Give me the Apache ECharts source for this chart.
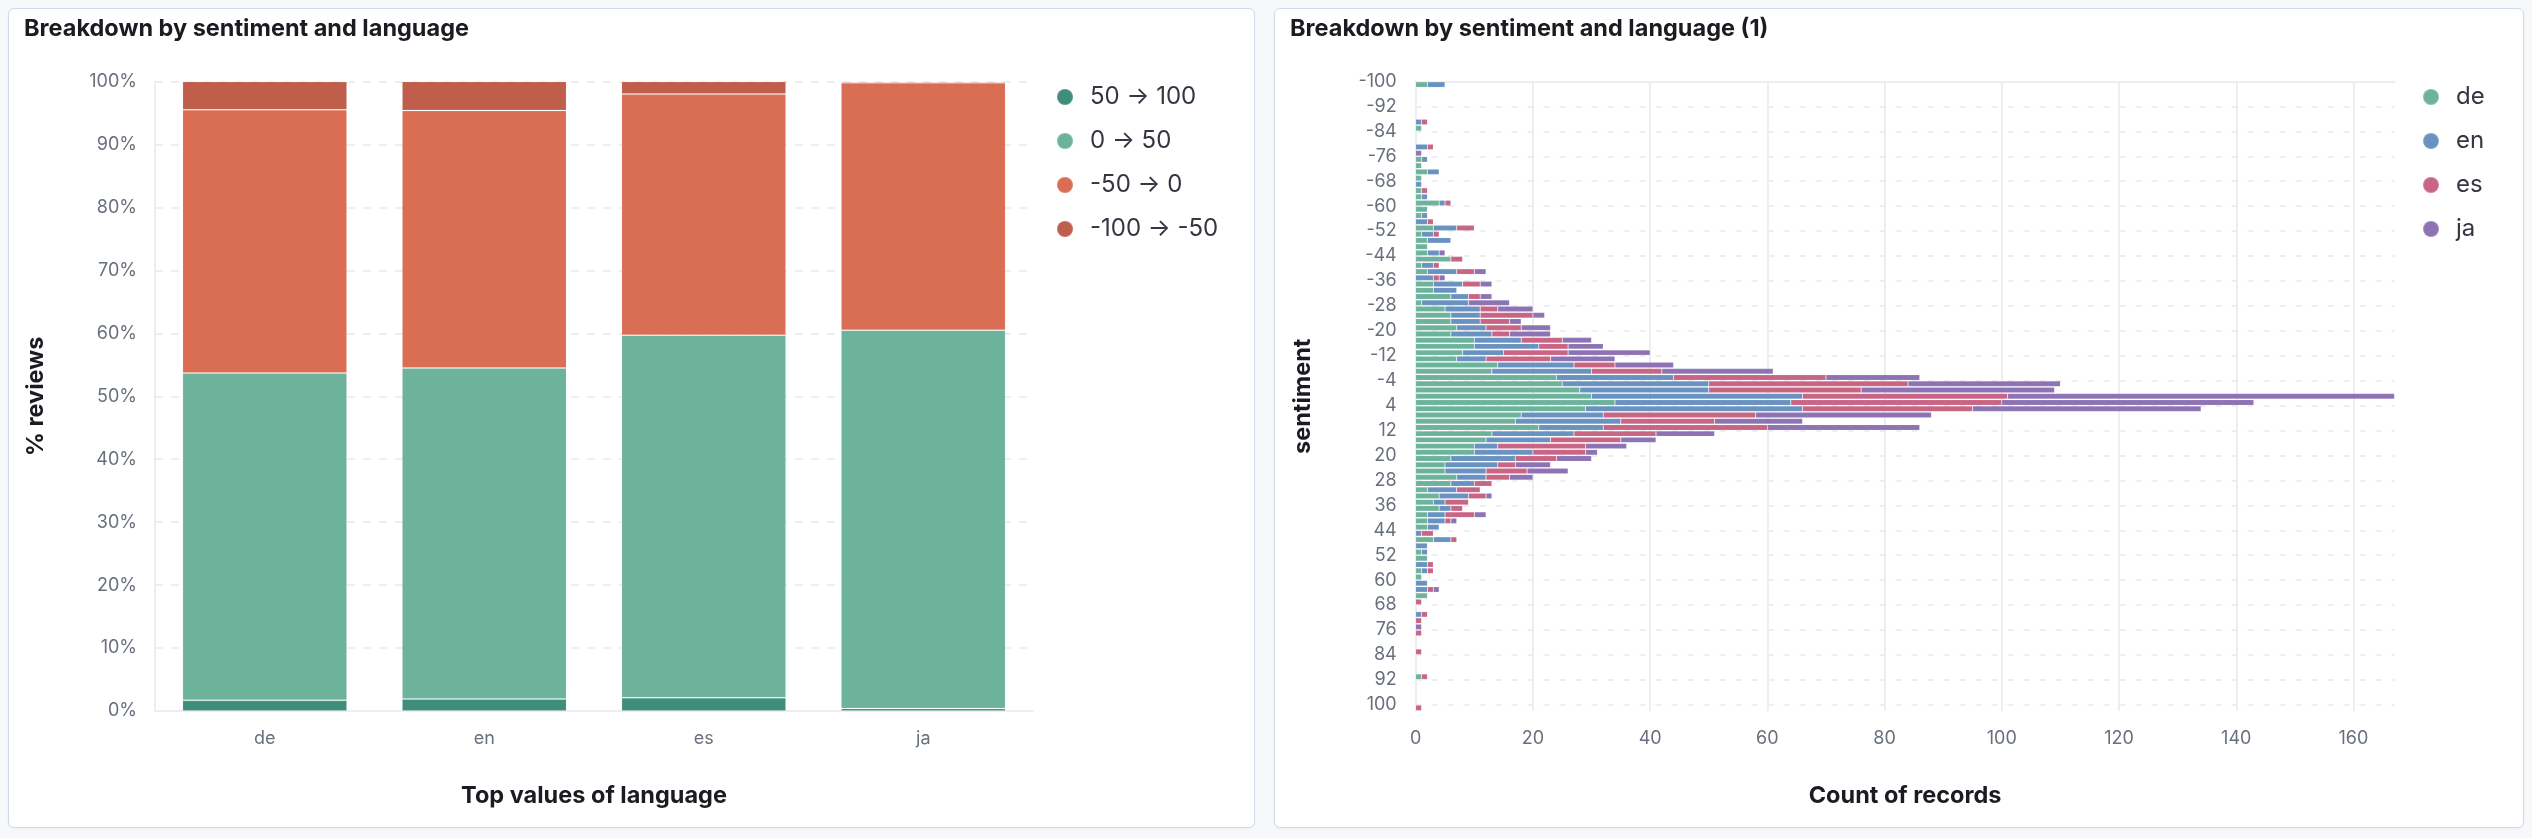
<!DOCTYPE html>
<html>
<head>
<meta charset="utf-8">
<script src="https://cdn.jsdelivr.net/npm/echarts@6.0.0/dist/echarts.min.js"></script>
<style>
html,body{margin:0;padding:0;background:#f6f8fb;width:2532px;height:838px;overflow:hidden;}
.card{position:absolute;background:#fff;border:1px solid #d3dae6;border-radius:6px;box-sizing:border-box;box-shadow:0 1px 3px rgba(0,0,0,0.04);}
#c1{left:8px;top:8px;width:1247px;height:820px;}
#c2{left:1274px;top:8px;width:1250px;height:820px;}
</style>
</head>
<body>
<div id="c1" class="card"></div>
<div id="c2" class="card"></div>
<script>
// ---------- left chart data ----------
const languages = ['de', 'en', 'es', 'ja'];
const rangeNames = ['50 \u2192 100', '0 \u2192 50', '-50 \u2192 0', '-100 \u2192 -50'];
const pct50to100 = [1.7, 1.9, 2.1, 0.4];
const pct0to50 = [52.0, 52.6, 57.6, 60.1];
const pctM50to0 = [41.8, 40.9, 38.3, 39.3];
const pctM100toM50 = [4.5, 4.6, 2.0, 0.2];

// ---------- right chart data ----------
const sentimentBins = [
  '-100','-98','-96','-94','-92','-90','-88','-86','-84','-82',
  '-80','-78','-76','-74','-72','-70','-68','-66','-64','-62',
  '-60','-58','-56','-54','-52','-50','-48','-46','-44','-42',
  '-40','-38','-36','-34','-32','-30','-28','-26','-24','-22',
  '-20','-18','-16','-14','-12','-10','-8','-6','-4','-2',
  '0','2','4','6','8','10','12','14','16','18',
  '20','22','24','26','28','30','32','34','36','38',
  '40','42','44','46','48','50','52','54','56','58',
  '60','62','64','66','68','70','72','74','76','78',
  '80','82','84','86','88','90','92','94','96','98',
  '100'
];
const sentimentTicks = [-100,-92,-84,-76,-68,-60,-52,-44,-36,-28,-20,-12,-4,4,12,20,28,36,44,52,60,68,76,84,92,100];
const countDe = [
  2,0,0,0,0,0,0,1,0,0,
  0,0,1,1,2,1,0,1,1,4,
  2,1,0,3,1,2,2,2,6,1,
  2,0,3,3,6,1,5,6,6,7,
  6,10,10,8,7,14,13,24,25,28,
  30,34,29,18,17,21,13,12,10,10,
  6,5,5,7,6,2,4,3,4,2,
  2,2,0,3,0,1,2,0,1,1,
  0,0,2,0,0,0,0,0,0,0,
  0,0,0,0,0,1,0,0,0,0,
  0
];
const countEn = [
  3,0,0,0,0,0,1,0,0,0,
  2,0,1,0,2,0,1,0,1,1,
  0,1,2,4,2,4,0,2,0,2,
  5,3,5,4,3,8,6,5,5,5,
  7,8,11,7,5,13,17,20,25,22,
  36,30,37,14,18,11,14,11,4,10,
  11,9,7,5,4,5,5,2,2,3,
  3,2,1,3,2,1,0,2,1,0,
  2,2,0,0,0,1,0,0,0,0,
  0,0,0,0,0,0,0,0,0,0,
  0
];
const countEs = [
  0,0,0,0,0,0,1,0,0,0,
  1,0,0,0,0,0,0,1,0,1,
  0,0,1,3,1,0,0,0,2,1,
  3,1,3,0,2,0,3,9,5,6,
  3,7,5,11,11,7,12,26,34,26,
  35,36,29,26,16,28,14,12,15,9,
  7,3,7,4,3,4,3,4,2,5,
  1,0,2,1,0,0,0,1,1,0,
  0,1,0,1,0,1,1,0,1,0,
  0,1,0,0,0,1,0,0,0,0,
  1
];
const countJa = [
  0,0,0,0,0,0,0,0,0,0,
  0,1,0,0,0,0,0,0,0,0,
  0,0,0,0,0,0,0,1,0,0,
  2,1,2,0,2,7,6,2,2,5,
  7,5,6,14,11,10,19,16,26,33,
  66,43,39,30,15,26,10,6,7,2,
  6,6,7,4,0,0,1,0,0,2,
  1,0,0,0,0,0,0,0,0,0,
  0,1,0,0,0,0,0,1,0,0,
  0,0,0,0,0,0,0,0,0,0,
  0
];

const FONT = 'Inter, "Noto Sans", sans-serif';
const GRID_COLOR = '#eceef2';
const LABEL_COLOR = '#69707d';
const TITLE_COLOR = '#1a1c21';
const LEGEND_COLOR = '#343741';

const rangeColors = ['#3f8d7b', '#6db39c', '#da6e55', '#bf5e4b'];
const langColors = ['#6db39c', '#6a92c0', '#c96584', '#8d73b3'];

function titleOpt(text) {
  return {
    text: text, left: 15, top: 8, padding: 0,
    textStyle: { fontFamily: FONT, fontSize: 23.5, fontWeight: 'bold', color: TITLE_COLOR, lineHeight: 24 }
  };
}
function legendOpt(left) {
  return {
    orient: 'vertical', left: left, top: 76, padding: 0,
    icon: 'circle', itemWidth: 16, itemHeight: 16, itemGap: 20,
    textStyle: { fontFamily: FONT, fontSize: 24, color: LEGEND_COLOR, lineHeight: 24, padding: [0, 0, 0, 12] },
    selectedMode: false
  };
}
const nameStyle = { fontFamily: FONT, fontSize: 23.5, fontWeight: 'bold', color: TITLE_COLOR };

// ---------- left chart ----------
const c1 = echarts.init(document.getElementById('c1'), null, { renderer: 'canvas' });
const pctSeries = [pct50to100, pct0to50, pctM50to0, pctM100toM50];
c1.setOption({
  animation: false,
  title: titleOpt('Breakdown by sentiment and language'),
  legend: Object.assign(legendOpt(1047), { data: rangeNames }),
  grid: { left: 146, top: 72.5, width: 878, height: 629.5 },
  xAxis: {
    type: 'category', data: languages,
    name: 'Top values of language', nameLocation: 'middle', nameGap: 73,
    nameTextStyle: nameStyle,
    axisLine: { show: true, lineStyle: { color: GRID_COLOR, width: 2 } },
    axisTick: { show: false },
    axisLabel: { fontFamily: FONT, fontSize: 18, color: LABEL_COLOR, margin: 19 }
  },
  yAxis: {
    type: 'value', min: 0, max: 100, interval: 10,
    name: '% reviews', nameLocation: 'middle', nameGap: 107, nameRotate: 90,
    nameTextStyle: nameStyle,
    axisLine: { show: true, lineStyle: { color: GRID_COLOR, width: 2 } },
    axisTick: { show: false },
    axisLabel: { fontFamily: FONT, fontSize: 18, color: LABEL_COLOR, margin: 18, formatter: '{value}%' },
    splitLine: { show: true, lineStyle: { color: GRID_COLOR, width: 2, type: [8, 8] } }
  },
  series: rangeNames.map((n, k) => ({
    name: n, type: 'bar', stack: 'pct', barCategoryGap: '25%',
    itemStyle: { color: rangeColors[k], borderColor: 'rgba(255,255,255,0.12)', borderWidth: 1 },
    data: pctSeries[k]
  }))
});

// ---------- right chart ----------
const c2 = echarts.init(document.getElementById('c2'), null, { renderer: 'canvas' });
const countSeries = [countDe, countEn, countEs, countJa];
const nz = arr => arr.map(v => (v === 0 ? null : v));
c2.setOption({
  animation: false,
  title: titleOpt('Breakdown by sentiment and language (1)'),
  legend: Object.assign(legendOpt(1147), { data: languages }),
  grid: { left: 140.7, top: 72.5, width: 978.8, height: 629.5 },
  xAxis: {
    type: 'value', min: 0, max: 'dataMax', interval: 20,
    name: 'Count of records', nameLocation: 'middle', nameGap: 73,
    nameTextStyle: nameStyle,
    axisLine: { show: true, lineStyle: { color: GRID_COLOR, width: 2 } },
    axisTick: { show: false },
    axisLabel: { fontFamily: FONT, fontSize: 18, color: LABEL_COLOR, margin: 19, showMaxLabel: false },
    splitLine: { show: true, showMaxLine: false, lineStyle: { color: GRID_COLOR, width: 2 } }
  },
  yAxis: [
    {
      type: 'category', data: sentimentBins, inverse: true, show: false
    },
    {
      // label / grid axis: position = sentiment + 100 (0..202), ticks every 8
      type: 'value', inverse: true, min: 0, max: 202, interval: 8, position: 'left',
      name: 'sentiment', nameLocation: 'middle', nameGap: 101, nameRotate: 90,
      nameTextStyle: nameStyle,
      axisLine: { show: false }, axisTick: { show: false },
      axisLabel: {
        fontFamily: FONT, fontSize: 18, color: LABEL_COLOR, margin: 19, showMaxLabel: false,
        formatter: v => { const s = v - 100; return sentimentTicks.indexOf(s) >= 0 ? String(s) : ''; }
      },
      splitLine: { show: true, showMaxLine: false, lineStyle: { color: GRID_COLOR, width: 2, type: [6, 10] } }
    }
  ],
  series: languages.map((n, k) => ({
    name: n, type: 'bar', stack: 'count', yAxisIndex: 0, barCategoryGap: '11%',
    itemStyle: { color: langColors[k], borderColor: 'rgba(255,255,255,0.18)', borderWidth: 0.6 },
    data: nz(countSeries[k])
  }))
});
</script>
</body>
</html>
